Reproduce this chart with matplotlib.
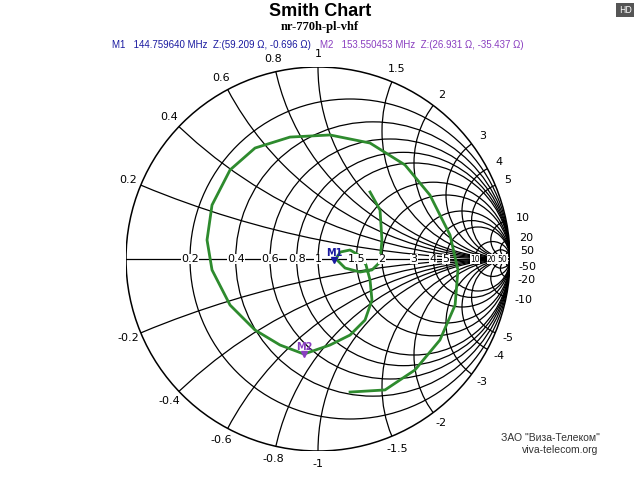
import numpy as np
import matplotlib.pyplot as plt
from matplotlib.patches import Circle

# grid values
r_vals = [0.2, 0.4, 0.6, 0.8, 1, 1.5, 2, 3, 4, 5, 10, 20, 50]
x_vals = [0.2, 0.4, 0.6, 0.8, 1, 1.5, 2, 3, 4, 5, 10, 20, 50]
r_labels = ['0.2', '0.4', '0.6', '0.8', '1', '1.5', '2', '3', '4', '5', '10', '20', '50']

# trace, reflection coefficient
g_re = [0.271, 0.323, 0.333, 0.323, 0.281, 0.219, 0.141, 0.094, 0.115, 0.167, 0.219, 0.25,
        0.271, 0.281, 0.245, 0.167, 0.0625, -0.073, -0.198, -0.328, -0.458, -0.552, -0.578,
        -0.552, -0.458, -0.328, -0.146, 0.0625, 0.271, 0.453, 0.583, 0.6875, 0.729, 0.714,
        0.635, 0.505, 0.349, 0.167]
g_im = [0.349, 0.255, 0.099, -0.016, -0.057, -0.068, -0.047, 0.0, 0.036, 0.047, 0.016, -0.031,
        -0.109, -0.214, -0.318, -0.396, -0.448, -0.495, -0.448, -0.370, -0.240, -0.057, 0.099,
        0.281, 0.464, 0.578, 0.635, 0.646, 0.604, 0.490, 0.333, 0.125, -0.057, -0.240,
        -0.422, -0.578, -0.682, -0.693]

# markers (impedance, ohm)
z0 = 50.0
m1_z = complex(59.209, -0.696)
m2_z = complex(26.931, -35.437)

fig = plt.figure(figsize=(6.4, 4.8), dpi=100)
ax = fig.add_axes([126 / 640, 29 / 480, 384 / 640, 384 / 480])
ax.set_xlim(-1, 1)
ax.set_ylim(-1, 1)
ax.axis('off')

clip = Circle((0, 0), 1, transform=ax.transData, fc='none', ec='none')
ax.add_patch(clip)
lw = 0.9
for r in r_vals:
    c = Circle((r / (1 + r), 0), 1 / (1 + r), fill=False, ec='black', lw=lw)
    ax.add_patch(c)
    c.set_clip_path(clip)
for x in x_vals:
    for s in (1, -1):
        c = Circle((1, s / x), 1 / x, fill=False, ec='black', lw=lw)
        ax.add_patch(c)
        c.set_clip_path(clip)
ax.add_patch(Circle((0, 0), 1, fill=False, ec='black', lw=1.1))
ax.plot([-1, 1], [0, 0], color='black', lw=lw)

# resistance labels on the real axis
for r, lab in zip(r_vals, r_labels):
    gx = (r - 1) / (r + 1)
    fs = 8 if r < 10 else 5.5
    ax.text(gx, 0, lab, fontsize=fs, ha='center', va='center',
            bbox=dict(fc='white', ec='none', pad=0.2))

# reactance labels outside the circle
for x, lab in zip(x_vals, r_labels):
    for s in (1, -1):
        g = (complex(0, s * x) - 1) / (complex(0, s * x) + 1)
        a = np.angle(g)
        rr = 1.07 if x < 10 else 1.09
        txt = lab if s > 0 else '-' + lab
        ax.text(rr * np.cos(a), rr * np.sin(a), txt, fontsize=8, ha='center', va='center')

ax.plot(g_re, g_im, color='#2e8b2e', lw=2, solid_joinstyle='round')

for z, name, col in ((m1_z, 'M1', '#1a1aa0'), (m2_z, 'M2', '#8a3fc0')):
    zn = z / z0
    g = (zn - 1) / (zn + 1)
    ax.plot(g.real, g.imag, marker='v', color=col, ms=4)
    ax.text(g.real, g.imag + 0.01, name, color=col, fontsize=7, fontweight='bold',
            ha='center', va='bottom')

fig.text(0.5, 0.976, 'Smith Chart', fontsize=13, fontweight='bold', ha='center', va='center',
         family='Liberation Sans')
fig.text(0.5, 0.943, 'nr-770h-pl-vhf', fontsize=9, fontweight='bold', ha='center', va='center',
         family='Liberation Serif')
fig.text(0.175, 0.906, 'M1   144.759640 MHz  Z:(59.209 Ω, -0.696 Ω)', fontsize=7,
         color='#1a1aa0', ha='left', va='center', family='Liberation Sans')
fig.text(0.5, 0.906, 'M2   153.550453 MHz  Z:(26.931 Ω, -35.437 Ω)', fontsize=7,
         color='#8a3fc0', ha='left', va='center', family='Liberation Sans')
fig.text(0.977, 0.979, 'HD', fontsize=6, color='white', ha='center', va='center',
         bbox=dict(fc='#555555', ec='none', pad=2))
fig.text(0.86, 0.088, 'ЗАО "Виза-Телеком"', fontsize=7.5, color='#333333', ha='center', va='center',
         family='Liberation Sans')
fig.text(0.875, 0.063, 'viva-telecom.org', fontsize=7.5, color='#333333', ha='center', va='center',
         family='Liberation Sans')

fig.savefig('out.png', dpi=100)
